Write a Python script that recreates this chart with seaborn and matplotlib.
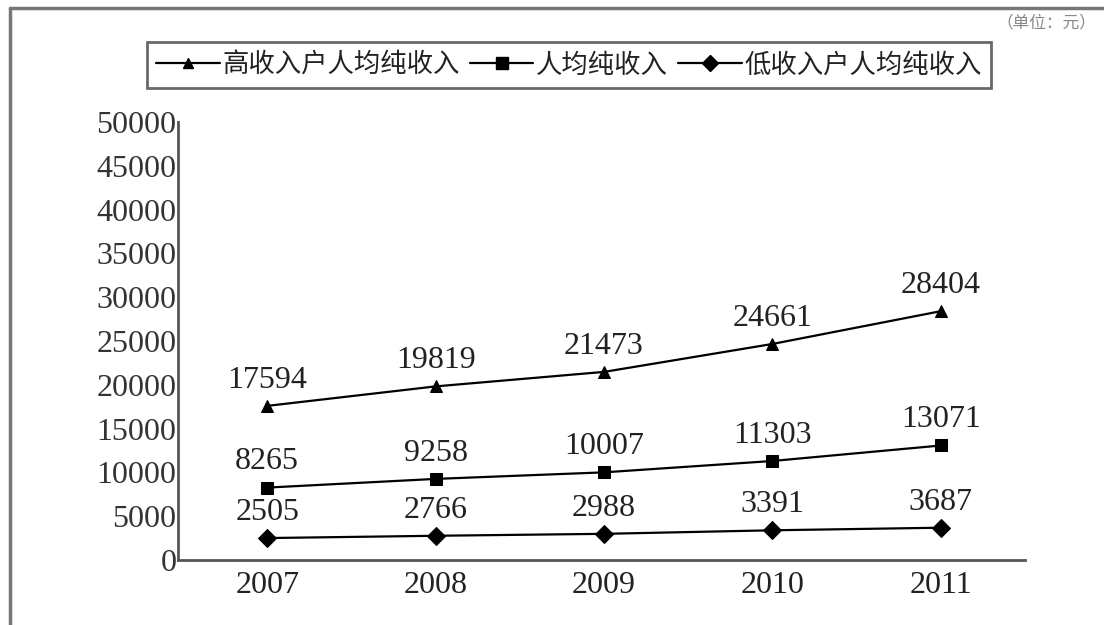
import numpy as np
import pandas as pd
import seaborn as sns
import matplotlib.pyplot as plt
from matplotlib.lines import Line2D

# datos del grafico
years = ['2007', '2008', '2009', '2010', '2011']
high_income = [17594, 19819, 21473, 24661, 28404]
avg_income = [8265, 9258, 10007, 11303, 13071]
low_income = [2505, 2766, 2988, 3391, 3687]
series_names = ['高收入户人均纯收入', '人均纯收入', '低收入户人均纯收入']
y_ticks = list(range(0, 50001, 5000))

sns.set_style('white')
plt.rcParams['font.family'] = ['Liberation Serif', 'Noto Sans CJK SC', 'DejaVu Sans']

rows = []
for name, vals in zip(series_names, [high_income, avg_income, low_income]):
    for i, v in enumerate(vals):
        rows.append({'serie': name, 'x': i, 'valor': v})
df = pd.DataFrame(rows)

fig = plt.figure(figsize=(11.04, 6.25), dpi=100)
ax = fig.add_axes([178 / 1104, 1 - 560 / 625, (1025 - 178) / 1104, (560 - 122) / 625])

markers = {series_names[0]: '^', series_names[1]: 's', series_names[2]: 'D'}
sizes = {series_names[0]: 8, series_names[1]: 9, series_names[2]: 9}
for name in series_names:
    sub = df[df['serie'] == name]
    sns.lineplot(data=sub, x='x', y='valor', ax=ax, color='black', linewidth=1.6,
                 marker=markers[name], markersize=sizes[name], markeredgecolor='black',
                 label=name, legend=False)
    for _, r in sub.iterrows():
        ax.annotate(str(r['valor']), (r['x'], r['valor']), xytext=(0, 8),
                    textcoords='offset points', ha='center', va='bottom',
                    fontsize=23, color='#222222', family='Liberation Serif')

ax.set_xlim(-0.53, 4.5)
ax.set_ylim(0, 50000)
ax.set_yticks(y_ticks)
ax.set_yticklabels([str(t) for t in y_ticks])
ax.set_xticks(range(len(years)))
ax.set_xticklabels(years)
ax.set_xticks([0.5, 1.5, 2.5, 3.5, 4.5], minor=True)
ax.tick_params(axis='x', which='major', length=0, labelsize=23, pad=8, colors='#222222')
ax.tick_params(axis='x', which='minor', direction='in', length=8, width=2, color='#555555')
ax.tick_params(axis='y', direction='in', length=8, width=2, color='#555555',
               labelsize=23, pad=1, labelcolor='#333333')
ax.set_xlabel('')
ax.set_ylabel('')
sns.despine(ax=ax)
for s in ['left', 'bottom']:
    ax.spines[s].set_color('#555555')
    ax.spines[s].set_linewidth(2)

handles = [Line2D([], [], color='black', linewidth=1.6, marker=markers[n],
                  markersize=sizes[n] - 1) for n in series_names]
leg = fig.legend(handles, series_names, loc='center', ncol=3,
                 bbox_to_anchor=(569 / 1104, 1 - 65 / 625), frameon=True,
                 fancybox=False, edgecolor='#444444',
                 handlelength=2.4, handletextpad=0.1, columnspacing=0.4,
                 borderpad=0.35, prop={'family': ['Noto Sans CJK SC'], 'size': 19})
leg.get_frame().set_linewidth(2)
for t in leg.get_texts():
    t.set_color('#222222')

# marco exterior
fig.add_artist(Line2D([10 / 1104, 10 / 1104], [0, 1 - 8 / 625], transform=fig.transFigure,
                      color='#777777', linewidth=2.5))
fig.add_artist(Line2D([10 / 1104, 1], [1 - 8 / 625, 1 - 8 / 625], transform=fig.transFigure,
                      color='#777777', linewidth=2.5))
fig.text(1096 / 1104, 1 - 14 / 625, '（单位：元）', ha='right', va='top', fontsize=12,
         color='#888888', family=['Noto Sans CJK SC'])

plt.savefig('out.png', dpi=100)
